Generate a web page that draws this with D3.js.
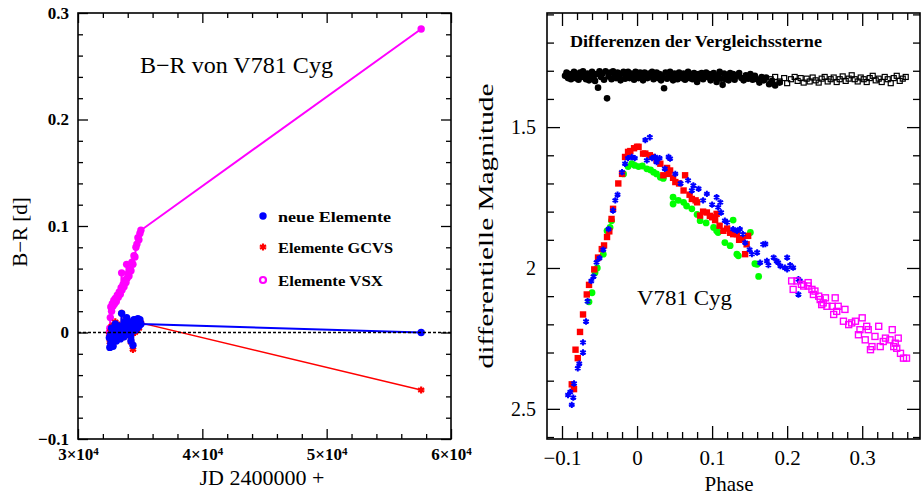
<!DOCTYPE html>
<html>
<head>
<meta charset="utf-8">
<script src="https://cdnjs.cloudflare.com/ajax/libs/d3/7.8.5/d3.min.js"></script>
<style>
  body { margin: 0; background: #fff; }
  svg text { font-family: "Liberation Serif", "DejaVu Serif", serif; fill: #000; }
</style>
</head>
<body>
<svg id="chart" width="922" height="498"></svg>
<script>
// ---- left panel: B-R (O-C) against JD for three sets of elements
var epochJD = [32520,32560,32600,32640,32700,32760,32820,32880,32940,33000,33080,33160,33240,33320,33400,33470,33510,33540,33620,33700,33780,33860,33910,33950,34030,34100,34180,34260,34340,34420,34500,34580,34660,34740,34820,34900,34980,35060,57600];
var ocNeu  = [-0.005,-0.014,-0.002,-0.010,0.004,-0.006,-0.013,0.002,-0.004,0.008,-0.008,0.003,-0.003,0.006,-0.006,0.004,0.018,-0.002,0.006,-0.004,0.010,0.000,0.014,0.002,0.008,-0.002,0.010,-0.008,0.006,-0.012,0.012,0.002,0.012,0.004,0.013,0.006,0.012,0.008,0.000];
var ocGCVS = [-0.002,-0.009,0.001,-0.007,0.006,-0.004,-0.011,0.004,-0.002,0.010,-0.006,0.004,-0.002,0.007,-0.005,0.005,0.018,-0.001,0.006,-0.004,0.010,0.000,0.013,0.001,0.007,-0.003,0.009,-0.009,0.005,-0.016,0.011,0.000,0.010,0.003,0.011,0.004,0.010,0.009,-0.054];
var ocVSX  = [0.000,0.004,0.014,0.024,0.020,0.027,0.025,0.030,0.027,0.032,0.029,0.035,0.033,0.038,0.036,0.042,0.056,0.040,0.045,0.043,0.049,0.047,0.064,0.051,0.055,0.053,0.059,0.058,0.066,0.064,0.072,0.071,0.080,0.083,0.089,0.087,0.093,0.096,0.285];
var legendLabels = ["neue Elemente", "Elemente GCVS", "Elemente VSX"];
var jdTicks = [30000, 40000, 50000, 60000];
var ocTickVals = [-0.1, 0, 0.1, 0.2, 0.3];

// ---- right panel: light curve against phase, [phase, magnitude]
var lcRed = [[-0.087,2.413],[-0.084,2.43],[-0.082,2.29],[-0.079,2.32],[-0.076,2.227],[-0.072,2.165],[-0.067,2.094],[-0.064,2.06],[-0.057,2.005],[-0.052,1.963],[-0.047,1.933],[-0.044,1.92],[-0.040,1.89],[-0.037,1.87],[-0.034,1.826],[-0.032,1.79],[-0.025,1.70],[-0.020,1.666],[-0.016,1.606],[-0.012,1.588],[-0.009,1.585],[-0.004,1.575],[0.000,1.57],[0.002,1.57],[0.008,1.594],[0.011,1.594],[0.017,1.60],[0.020,1.606],[0.026,1.618],[0.031,1.63],[0.035,1.671],[0.040,1.645],[0.042,1.666],[0.044,1.654],[0.048,1.68],[0.051,1.695],[0.056,1.70],[0.062,1.725],[0.064,1.671],[0.070,1.74],[0.073,1.755],[0.078,1.76],[0.080,1.767],[0.084,1.814],[0.088,1.80],[0.093,1.803],[0.097,1.815],[0.100,1.82],[0.104,1.83],[0.106,1.808],[0.110,1.85],[0.115,1.868],[0.120,1.86],[0.124,1.875],[0.128,1.88],[0.133,1.88],[0.136,1.90],[0.140,1.898],[0.144,1.951],[0.146,1.916],[0.148,1.886]];
var lcGreen = [[-0.064,2.12],[-0.060,2.088],[-0.056,2.017],[-0.053,2.00],[-0.045,1.951],[-0.040,1.868],[-0.036,1.856],[-0.034,1.832],[-0.018,1.666],[-0.012,1.64],[-0.007,1.63],[-0.003,1.636],[0.002,1.64],[0.007,1.638],[0.013,1.648],[0.018,1.652],[0.022,1.66],[0.026,1.666],[0.031,1.678],[0.035,1.682],[0.048,1.749],[0.048,1.773],[0.055,1.76],[0.062,1.767],[0.066,1.78],[0.073,1.79],[0.080,1.81],[0.084,1.832],[0.092,1.84],[0.102,1.856],[0.106,1.868],[0.108,1.874],[0.117,1.91],[0.124,1.921],[0.128,1.83],[0.133,1.951],[0.135,1.957],[0.151,1.874],[0.157,1.985],[0.160,1.987],[0.162,2.03]];
var lcBlue = [[-0.092,2.451],[-0.089,2.44],[-0.087,2.486],[-0.085,2.46],[-0.084,2.41],[-0.079,2.356],[-0.077,2.34],[-0.072,2.30],[-0.072,2.264],[-0.068,2.19],[-0.066,2.118],[-0.061,2.046],[-0.058,2.03],[-0.054,1.98],[-0.050,1.965],[-0.045,1.935],[-0.038,1.862],[-0.032,1.796],[-0.029,1.76],[-0.026,1.74],[-0.020,1.66],[-0.016,1.63],[-0.012,1.61],[-0.007,1.606],[-0.003,1.61],[0.011,1.546],[0.017,1.536],[0.013,1.618],[0.020,1.61],[0.024,1.606],[0.026,1.624],[0.030,1.61],[0.037,1.648],[0.042,1.606],[0.044,1.612],[0.051,1.666],[0.058,1.70],[0.068,1.689],[0.073,1.725],[0.075,1.707],[0.082,1.719],[0.088,1.76],[0.093,1.737],[0.100,1.775],[0.106,1.749],[0.108,1.785],[0.111,1.767],[0.112,1.803],[0.117,1.832],[0.120,1.838],[0.128,1.862],[0.133,1.868],[0.137,1.862],[0.141,1.88],[0.144,1.91],[0.150,1.935],[0.153,1.951],[0.160,1.945],[0.164,1.981],[0.168,1.916],[0.171,1.915],[0.173,1.975],[0.175,1.99],[0.182,1.963],[0.186,1.975],[0.188,1.981],[0.191,1.993],[0.197,1.999],[0.200,1.963],[0.200,2.005],[0.204,1.99],[0.208,1.999],[0.215,2.04],[0.217,2.046],[0.215,2.094]];
var lcVSX = [[0.206,2.046],[0.213,2.046],[0.208,2.076],[0.219,2.058],[0.222,2.064],[0.228,2.064],[0.228,2.052],[0.233,2.076],[0.235,2.094],[0.237,2.082],[0.242,2.10],[0.244,2.112],[0.248,2.124],[0.251,2.106],[0.246,2.13],[0.253,2.136],[0.260,2.136],[0.264,2.106],[0.268,2.136],[0.262,2.165],[0.266,2.154],[0.277,2.147],[0.275,2.189],[0.282,2.201],[0.286,2.195],[0.291,2.189],[0.300,2.177],[0.297,2.219],[0.306,2.207],[0.308,2.219],[0.295,2.237],[0.304,2.255],[0.311,2.29],[0.313,2.279],[0.317,2.243],[0.322,2.207],[0.324,2.279],[0.328,2.261],[0.331,2.249],[0.337,2.255],[0.340,2.219],[0.342,2.279],[0.344,2.267],[0.348,2.249],[0.346,2.285],[0.351,2.303],[0.355,2.32],[0.359,2.32]];
var cmpFilled = [[-0.096,1.318],[-0.094,1.306],[-0.092,1.326],[-0.090,1.312],[-0.088,1.33],[-0.086,1.318],[-0.084,1.304],[-0.082,1.326],[-0.080,1.314],[-0.078,1.332],[-0.076,1.306],[-0.074,1.322],[-0.072,1.302],[-0.070,1.318],[-0.068,1.33],[-0.066,1.31],[-0.064,1.334],[-0.062,1.318],[-0.060,1.304],[-0.058,1.326],[-0.056,1.336],[-0.054,1.312],[-0.052,1.36],[-0.050,1.302],[-0.048,1.322],[-0.046,1.31],[-0.044,1.332],[-0.042,1.302],[-0.040,1.398],[-0.038,1.32],[-0.036,1.306],[-0.034,1.33],[-0.032,1.302],[-0.030,1.316],[-0.028,1.326],[-0.026,1.306],[-0.024,1.32],[-0.022,1.334],[-0.020,1.31],[-0.018,1.304],[-0.016,1.328],[-0.014,1.316],[-0.012,1.304],[-0.010,1.326],[-0.008,1.31],[-0.006,1.32],[-0.004,1.332],[-0.002,1.304],[0.000,1.316],[0.002,1.326],[0.004,1.306],[0.006,1.32],[0.008,1.334],[0.010,1.306],[0.012,1.314],[0.014,1.326],[0.016,1.31],[0.018,1.32],[0.020,1.304],[0.022,1.33],[0.024,1.316],[0.026,1.306],[0.028,1.326],[0.030,1.312],[0.032,1.334],[0.034,1.318],[0.036,1.362],[0.038,1.306],[0.040,1.328],[0.042,1.312],[0.044,1.304],[0.046,1.322],[0.048,1.334],[0.050,1.31],[0.052,1.318],[0.054,1.33],[0.056,1.306],[0.058,1.32],[0.060,1.326],[0.062,1.31],[0.064,1.332],[0.066,1.316],[0.068,1.304],[0.070,1.326],[0.072,1.312],[0.074,1.33],[0.076,1.308],[0.078,1.32],[0.080,1.34],[0.082,1.312],[0.084,1.326],[0.086,1.308],[0.088,1.33],[0.090,1.316],[0.092,1.306],[0.094,1.322],[0.096,1.312],[0.098,1.334],[0.100,1.318],[0.102,1.308],[0.104,1.326],[0.106,1.34],[0.108,1.316],[0.110,1.304],[0.112,1.328],[0.114,1.35],[0.116,1.31],[0.118,1.33],[0.120,1.316],[0.122,1.334],[0.124,1.308],[0.126,1.322],[0.128,1.312],[0.130,1.332],[0.133,1.318],[0.136,1.308],[0.139,1.326],[0.142,1.334],[0.145,1.316],[0.148,1.328],[0.151,1.312],[0.154,1.332],[0.157,1.318],[0.160,1.33],[0.163,1.342],[0.166,1.322],[0.169,1.334],[0.172,1.324],[0.176,1.348],[0.180,1.336],[0.184,1.352],[0.190,1.342]];
var cmpOpen = [[0.178,1.33],[0.184,1.322],[0.190,1.338],[0.196,1.326],[0.200,1.344],[0.205,1.33],[0.210,1.322],[0.214,1.336],[0.218,1.326],[0.222,1.342],[0.226,1.328],[0.230,1.338],[0.234,1.324],[0.238,1.334],[0.242,1.342],[0.246,1.328],[0.250,1.322],[0.254,1.338],[0.258,1.33],[0.262,1.324],[0.266,1.34],[0.270,1.33],[0.274,1.32],[0.278,1.336],[0.282,1.328],[0.286,1.316],[0.290,1.33],[0.294,1.338],[0.298,1.324],[0.302,1.33],[0.306,1.34],[0.310,1.326],[0.314,1.318],[0.318,1.334],[0.322,1.328],[0.326,1.34],[0.330,1.322],[0.334,1.33],[0.338,1.344],[0.342,1.326],[0.346,1.318],[0.350,1.336],[0.354,1.328],[0.358,1.322]];
var phaseTicks = [-0.1, 0, 0.1, 0.2, 0.3];
var magTicks = [1.5, 2, 2.5];

(function(){
  var svg = d3.select("#chart");

  // six-armed asterisk like the plotting package uses
  var asterisk = {
    draw: function(ctx, size) {
      var r = Math.sqrt(size) / 2;
      for (var i = 0; i < 3; i++) {
        var a = Math.PI / 2 + i * Math.PI / 3;
        ctx.moveTo(r * Math.cos(a), r * Math.sin(a));
        ctx.lineTo(-r * Math.cos(a), -r * Math.sin(a));
      }
    }
  };

  function drawAxes(g, x, y, o) {
    var x0 = x.range()[0], x1 = x.range()[1];
    var top = d3.min(y.range()), bot = d3.max(y.range());
    function side(axis, tr, sc, ticks, size, fmt) {
      return g.append("g").attr("transform", tr)
        .call(axis(sc).tickValues(ticks).tickSize(-size).tickPadding(o.pad).tickFormat(fmt))
        .call(function(s) {
          s.select(".domain").remove();
          s.selectAll("line").attr("stroke-width", 1.3);
        });
    }
    var none = function() { return ""; };
    var xb = side(d3.axisBottom, "translate(0," + bot + ")", x, o.xMajor, o.maj, o.xFmt);
    side(d3.axisBottom, "translate(0," + bot + ")", x, o.xMinor, o.min, none);
    side(d3.axisTop, "translate(0," + top + ")", x, o.xMajor, o.maj, none);
    side(d3.axisTop, "translate(0," + top + ")", x, o.xMinor, o.min, none);
    var yl = side(d3.axisLeft, "translate(" + x0 + ",0)", y, o.yMajor, o.maj, o.yFmt);
    side(d3.axisLeft, "translate(" + x0 + ",0)", y, o.yMinor, o.min, none);
    side(d3.axisRight, "translate(" + x1 + ",0)", y, o.yMajor, o.maj, none);
    side(d3.axisRight, "translate(" + x1 + ",0)", y, o.yMinor, o.min, none);

    xb.selectAll("text")
      .style("font-size", o.xFont).style("font-weight", o.weight).attr("dy", "0.72em");
    yl.selectAll("text")
      .style("font-size", o.yFont).style("font-weight", o.weight);

    g.append("rect")
      .attr("x", x0).attr("y", top)
      .attr("width", x1 - x0).attr("height", bot - top)
      .attr("fill", "none").attr("stroke", "#000").attr("stroke-width", 1.6);
    return {xb: xb, yl: yl};
  }

  function notIn(list) {
    return function(v) {
      return !list.some(function(m) { return Math.abs(m - v) < 1e-9; });
    };
  }
  var fmt1 = function(d) { return d === 0 ? "0" : d3.format(".1f")(d); };

  // ================= left panel =================
  var gl = svg.append("g");
  var xL = d3.scaleLinear().domain([30000, 60000]).range([78, 451]);
  var yL = d3.scaleLinear().domain([-0.1, 0.3]).range([439, 13]);

  var axL = drawAxes(gl, xL, yL, {
    xMajor: jdTicks, xMinor: d3.range(30000, 60001, 2000).filter(notIn(jdTicks)),
    yMajor: ocTickVals, yMinor: d3.range(-0.1, 0.3001, 0.02).filter(notIn(ocTickVals)),
    maj: 10, min: 5, pad: 9, xFmt: String, yFmt: fmt1,
    xFont: "17px", yFont: "17px", weight: "bold"
  });
  // write the JD tick labels as 3x10^4 with a raised exponent
  axL.xb.selectAll("text").each(function(d) {
    var t = d3.select(this).text("");
    t.append("tspan").text((d / 1e4) + "×10");
    t.append("tspan").attr("dy", "-0.45em").style("font-size", "11px").text("4");
  });

  var series = [
    {vals: ocVSX,  color: "#ff00ff", lw: 2,   mark: "dot"},
    {vals: ocGCVS, color: "#ff0000", lw: 1.5, mark: "star"},
    {vals: ocNeu,  color: "#0000ff", lw: 2,   mark: "dot"}
  ];
  var line = d3.line()
    .x(function(d) { return xL(d[0]); })
    .y(function(d) { return yL(d[1]); });

  function addMark(sel, mark, color) {
    if (mark === "star") {
      sel.append("path").attr("d", d3.symbol().type(asterisk).size(50))
        .attr("fill", "none").attr("stroke", color).attr("stroke-width", 2.2);
    } else if (mark === "ring") {
      sel.append("circle").attr("r", 3).attr("fill", "none")
        .attr("stroke", color).attr("stroke-width", 2.2);
    } else {
      sel.append("circle").attr("r", 3.7).attr("fill", color);
    }
  }

  series.forEach(function(s) {
    var pts = epochJD.map(function(jd, i) { return [jd, s.vals[i]]; });
    gl.append("path").datum(pts)
      .attr("d", line)
      .attr("fill", "none")
      .attr("stroke", s.color)
      .attr("stroke-width", s.lw);
    gl.append("g").selectAll("g")
      .data(pts)
      .enter().append("g")
        .attr("transform", function(d) { return "translate(" + xL(d[0]) + "," + yL(d[1]) + ")"; })
        .each(function() { addMark(d3.select(this), s.mark, s.color); });
  });

  gl.append("line")
    .attr("x1", xL(30000)).attr("x2", xL(60000))
    .attr("y1", yL(0)).attr("y2", yL(0))
    .attr("stroke", "#000").attr("stroke-width", 1.4)
    .attr("stroke-dasharray", "3,2");

  // legend
  var legColors = ["#0000ff", "#ff0000", "#ff00ff"];
  var legMarks = ["dot", "star", "ring"];
  var legWidths = [113, 115, 105];
  var leg = gl.append("g").selectAll("g")
    .data(legendLabels)
    .enter().append("g")
      .attr("transform", function(d, i) { return "translate(263," + [216, 247, 280][i] + ")"; });
  leg.each(function(d, i) { addMark(d3.select(this), legMarks[i], legColors[i]); });
  leg.append("text")
    .attr("x", 15).attr("y", 6)
    .style("font-size", "15px").style("font-weight", "bold")
    .attr("textLength", function(d, i) { return legWidths[i]; })
    .attr("lengthAdjust", "spacingAndGlyphs")
    .text(function(d) { return d; });

  gl.append("text")
    .attr("x", 140).attr("y", 73)
    .style("font-size", "23px")
    .attr("textLength", 193).attr("lengthAdjust", "spacingAndGlyphs")
    .text("B−R von V781 Cyg");

  gl.append("text")
    .attr("transform", "translate(27,232) rotate(-90)")
    .attr("text-anchor", "middle")
    .style("font-size", "21px")
    .text("B−R [d]");

  gl.append("text")
    .attr("x", 262).attr("y", 485)
    .attr("text-anchor", "middle")
    .style("font-size", "22px")
    .text("JD 2400000 +");

  // ================= right panel =================
  var gr = svg.append("g");
  var xR = d3.scaleLinear().domain([-0.12, 0.377]).range([547, 920]);
  var yR = d3.scaleLinear().domain([1.095, 2.607]).range([13, 439]);

  drawAxes(gr, xR, yR, {
    xMajor: phaseTicks, xMinor: d3.range(-0.1, 0.3601, 0.02).filter(notIn(phaseTicks)),
    yMajor: magTicks, yMinor: d3.range(1.1, 2.6001, 0.1).filter(notIn(magTicks)),
    maj: 13, min: 7, pad: 11, xFmt: fmt1, yFmt: String,
    xFont: "21px", yFont: "20px", weight: "normal"
  });

  function pos(d) { return "translate(" + xR(d[0]) + "," + yR(d[1]) + ")"; }

  gr.append("g").selectAll("circle")
    .data(cmpFilled)
    .enter().append("circle")
      .attr("cx", function(d) { return xR(d[0]); })
      .attr("cy", function(d) { return yR(d[1]); })
      .attr("r", 3.3)
      .attr("fill", "#000");

  gr.append("g").selectAll("rect")
    .data(cmpOpen)
    .enter().append("rect")
      .attr("x", function(d) { return xR(d[0]) - 2.5; })
      .attr("y", function(d) { return yR(d[1]) - 2.5; })
      .attr("width", 5).attr("height", 5)
      .attr("fill", "none").attr("stroke", "#000").attr("stroke-width", 1.2);

  gr.append("g").selectAll("circle")
    .data(lcGreen)
    .enter().append("circle")
      .attr("cx", function(d) { return xR(d[0]); })
      .attr("cy", function(d) { return yR(d[1]); })
      .attr("r", 3.4)
      .attr("fill", "#00ff00");

  gr.append("g").selectAll("rect")
    .data(lcRed)
    .enter().append("rect")
      .attr("x", function(d) { return xR(d[0]) - 3.2; })
      .attr("y", function(d) { return yR(d[1]) - 3.2; })
      .attr("width", 6.4).attr("height", 6.4)
      .attr("fill", "#ff0000");

  gr.append("g").selectAll("path")
    .data(lcBlue)
    .enter().append("path")
      .attr("transform", pos)
      .attr("d", d3.symbol().type(asterisk).size(40))
      .attr("fill", "none").attr("stroke", "#0000ff").attr("stroke-width", 2);

  gr.append("g").selectAll("rect")
    .data(lcVSX)
    .enter().append("rect")
      .attr("x", function(d) { return xR(d[0]) - 3; })
      .attr("y", function(d) { return yR(d[1]) - 3; })
      .attr("width", 6).attr("height", 6)
      .attr("fill", "none").attr("stroke", "#ff00ff").attr("stroke-width", 1.4);

  gr.append("text")
    .attr("x", 570).attr("y", 47)
    .style("font-size", "16px").style("font-weight", "bold")
    .attr("textLength", 252).attr("lengthAdjust", "spacingAndGlyphs")
    .text("Differenzen der Vergleichssterne");

  gr.append("text")
    .attr("x", 637).attr("y", 305)
    .style("font-size", "22px")
    .attr("textLength", 95).attr("lengthAdjust", "spacingAndGlyphs")
    .text("V781 Cyg");

  gr.append("text")
    .attr("transform", "translate(493,226) rotate(-90)")
    .attr("text-anchor", "middle")
    .style("font-size", "22px")
    .attr("textLength", 285).attr("lengthAdjust", "spacingAndGlyphs")
    .text("differentielle Magnitude");

  gr.append("text")
    .attr("x", 729).attr("y", 491)
    .attr("text-anchor", "middle")
    .style("font-size", "21px")
    .text("Phase");
})();
</script>
</body>
</html>
